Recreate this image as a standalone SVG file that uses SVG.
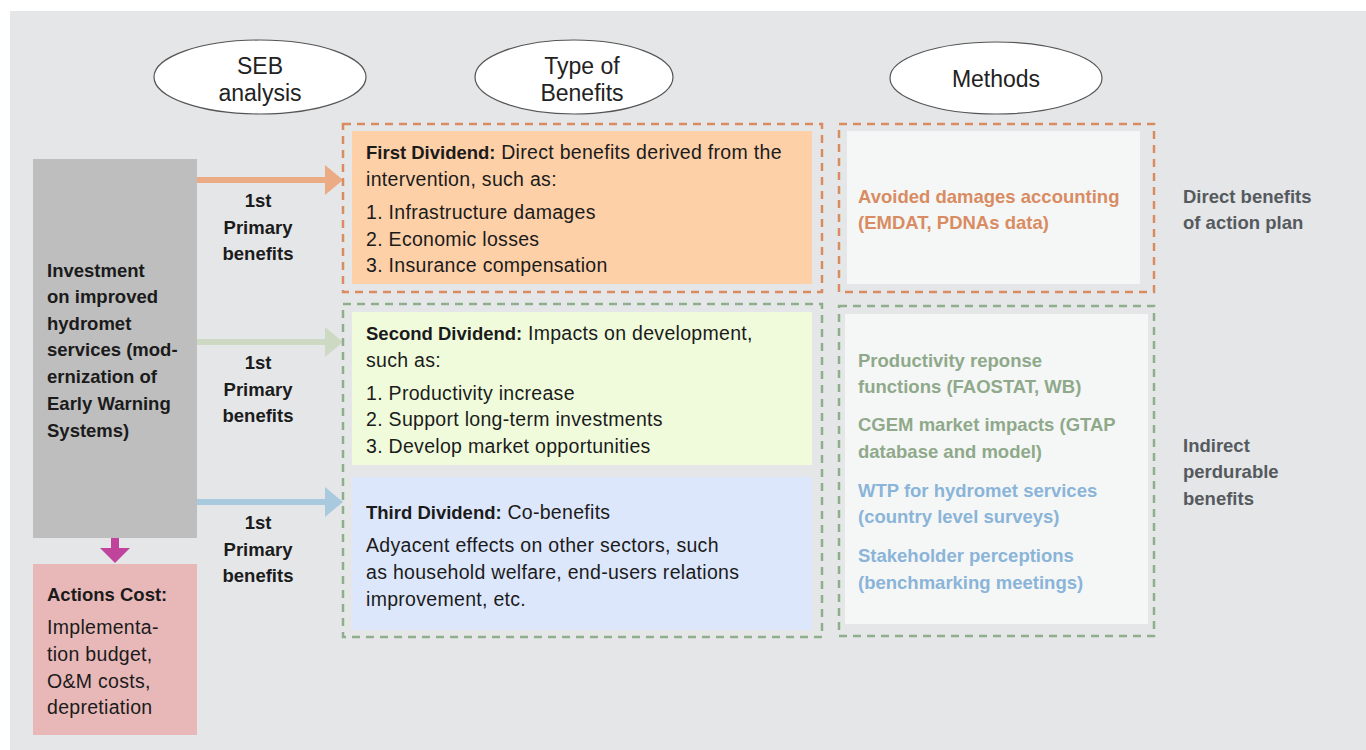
<svg xmlns="http://www.w3.org/2000/svg" width="1366" height="750" viewBox="0 0 1366 750">
  <style>
    text { font-family: "Liberation Sans", Arial, sans-serif; fill: #1b1b1b; }
    .hdr { font-size: 23px; text-anchor: middle; fill: #222; }
    .ell { fill: #ffffff; stroke: #555; stroke-width: 1.2; }
    .b { font-size: 18.5px; font-weight: bold; }
    .t { font-size: 19.5px; letter-spacing: 0.3px; }
    .ctr { text-anchor: middle; }
    .bold { font-weight: bold; letter-spacing: 0; font-size: 18.5px; }
    .dash-o { fill: none; stroke: #d98c62; stroke-width: 2.5; stroke-dasharray: 8 6; }
    .dash-g { fill: none; stroke: #8fae8c; stroke-width: 2.5; stroke-dasharray: 8 6; }
    .m-o { fill: #d98c62; font-size: 18.5px; font-weight: bold; }
    .m-g { fill: #8fa98a; font-size: 18.5px; font-weight: bold; }
    .m-b { fill: #8ab4d8; font-size: 18.5px; font-weight: bold; }
    .side { fill: #555a5e; font-size: 18.5px; font-weight: bold; }
  </style>

  <!-- backdrop -->
  <rect x="10" y="11" width="1356" height="739" fill="#e5e6e8"/>

  <!-- column headers -->
  <g id="hdr-seb">
    <ellipse class="ell" cx="260" cy="77" rx="106" ry="37"/>
    <text class="hdr" x="260" y="74">SEB</text>
    <text class="hdr" x="260" y="101">analysis</text>
  </g>
  <g id="hdr-type">
    <ellipse class="ell" cx="574" cy="77" rx="99" ry="37"/>
    <text class="hdr" x="582" y="74">Type of</text>
    <text class="hdr" x="582" y="101">Benefits</text>
  </g>
  <g id="hdr-methods">
    <ellipse class="ell" cx="996" cy="78" rx="106" ry="36"/>
    <text class="hdr" x="996" y="87">Methods</text>
  </g>

  <!-- investment node -->
  <g id="investment">
    <rect x="33" y="159" width="164" height="379" fill="#bebebe"/>
    <text class="b" x="47" y="277">Investment</text>
    <text class="b" x="47" y="303">on improved</text>
    <text class="b" x="47" y="330">hydromet</text>
    <text class="b" x="47" y="356">services (mod-</text>
    <text class="b" x="47" y="383">ernization of</text>
    <text class="b" x="47" y="410">Early Warning</text>
    <text class="b" x="47" y="437">Systems)</text>
  </g>

  <!-- actions cost node -->
  <g id="actions-cost">
    <rect x="33" y="564" width="164" height="171" fill="#e8b8b8"/>
    <text class="b" x="47" y="601">Actions Cost:</text>
    <text class="t" x="47" y="634">Implementa-</text>
    <text class="t" x="47" y="661">tion budget,</text>
    <text class="t" x="47" y="688">O&amp;M costs,</text>
    <text class="t" x="47" y="714">depretiation</text>
  </g>

  <!-- connectors -->
  <g id="connectors">
    <rect x="197" y="177" width="130" height="6" fill="#eaab85"/>
    <polygon points="325,165 343,180 325,195" fill="#eaab85"/>
    <rect x="197" y="339" width="130" height="6" fill="#cdd9c3"/>
    <polygon points="325,327 343,342 325,357" fill="#cdd9c3"/>
    <rect x="197" y="499" width="130" height="6" fill="#a9c9df"/>
    <polygon points="325,487 343,502 325,517" fill="#a9c9df"/>
    <rect x="111" y="538" width="8" height="11" fill="#c0449c"/>
    <polygon points="100,548 130,548 115,563" fill="#c0449c"/>
  </g>

  <!-- connector labels -->
  <g id="labels">
    <text class="b ctr" x="258" y="207">1st</text>
    <text class="b ctr" x="258" y="234">Primary</text>
    <text class="b ctr" x="258" y="260">benefits</text>
    <text class="b ctr" x="258" y="369">1st</text>
    <text class="b ctr" x="258" y="396">Primary</text>
    <text class="b ctr" x="258" y="422">benefits</text>
    <text class="b ctr" x="258" y="529">1st</text>
    <text class="b ctr" x="258" y="556">Primary</text>
    <text class="b ctr" x="258" y="582">benefits</text>
  </g>

  <!-- benefit groups -->
  <g id="first-dividend">
    <rect class="dash-o" x="343" y="124" width="479" height="168"/>
    <rect x="352" y="131" width="460" height="153" fill="#fdd0a8"/>
    <text class="t" x="366" y="159"><tspan class="bold">First Dividend:</tspan> Direct benefits derived from the</text>
    <text class="t" x="366" y="186">intervention, such as:</text>
    <text class="t" x="366" y="219">1. Infrastructure damages</text>
    <text class="t" x="366" y="246">2. Economic losses</text>
    <text class="t" x="366" y="272">3. Insurance compensation</text>
  </g>

  <g id="indirect-group">
    <rect class="dash-g" x="343" y="304" width="479" height="333"/>
  </g>
  <g id="second-dividend">
    <rect x="352" y="312" width="460" height="153" fill="#f0fbdc"/>
    <text class="t" x="366" y="340"><tspan class="bold">Second Dividend:</tspan> Impacts on development,</text>
    <text class="t" x="366" y="367">such as:</text>
    <text class="t" x="366" y="400">1. Productivity increase</text>
    <text class="t" x="366" y="426">2. Support long-term investments</text>
    <text class="t" x="366" y="453">3. Develop market opportunities</text>
  </g>
  <g id="third-dividend">
    <rect x="352" y="477" width="460" height="153" fill="#dde7fb"/>
    <text class="t" x="366" y="519"><tspan class="bold">Third Dividend:</tspan> Co-benefits</text>
    <text class="t" x="366" y="552">Adyacent effects on other sectors, such</text>
    <text class="t" x="366" y="579">as household welfare, end-users relations</text>
    <text class="t" x="366" y="606">improvement, etc.</text>
  </g>

  <!-- methods -->
  <g id="methods-direct">
    <rect class="dash-o" x="839" y="124" width="315" height="168"/>
    <rect x="847" y="131" width="293" height="153" fill="#f5f7f7"/>
    <text class="m-o" x="858" y="203">Avoided damages accounting</text>
    <text class="m-o" x="858" y="229">(EMDAT, PDNAs data)</text>
  </g>
  <g id="methods-indirect">
    <rect class="dash-g" x="839" y="306" width="315" height="330"/>
    <rect x="845" y="314" width="303" height="310" fill="#f5f7f7"/>
    <text class="m-g" x="858" y="367">Productivity reponse</text>
    <text class="m-g" x="858" y="393">functions (FAOSTAT, WB)</text>
    <text class="m-g" x="858" y="431">CGEM market impacts (GTAP</text>
    <text class="m-g" x="858" y="458">database and model)</text>
    <text class="m-b" x="858" y="497">WTP for hydromet services</text>
    <text class="m-b" x="858" y="523">(country level surveys)</text>
    <text class="m-b" x="858" y="562">Stakeholder perceptions</text>
    <text class="m-b" x="858" y="589">(benchmarking meetings)</text>
  </g>

  <!-- row captions -->
  <g id="caption-direct">
    <text class="side" x="1183" y="203">Direct benefits</text>
    <text class="side" x="1183" y="229">of action plan</text>
  </g>
  <g id="caption-indirect">
    <text class="side" x="1183" y="452">Indirect</text>
    <text class="side" x="1183" y="478">perdurable</text>
    <text class="side" x="1183" y="505">benefits</text>
  </g>
</svg>
